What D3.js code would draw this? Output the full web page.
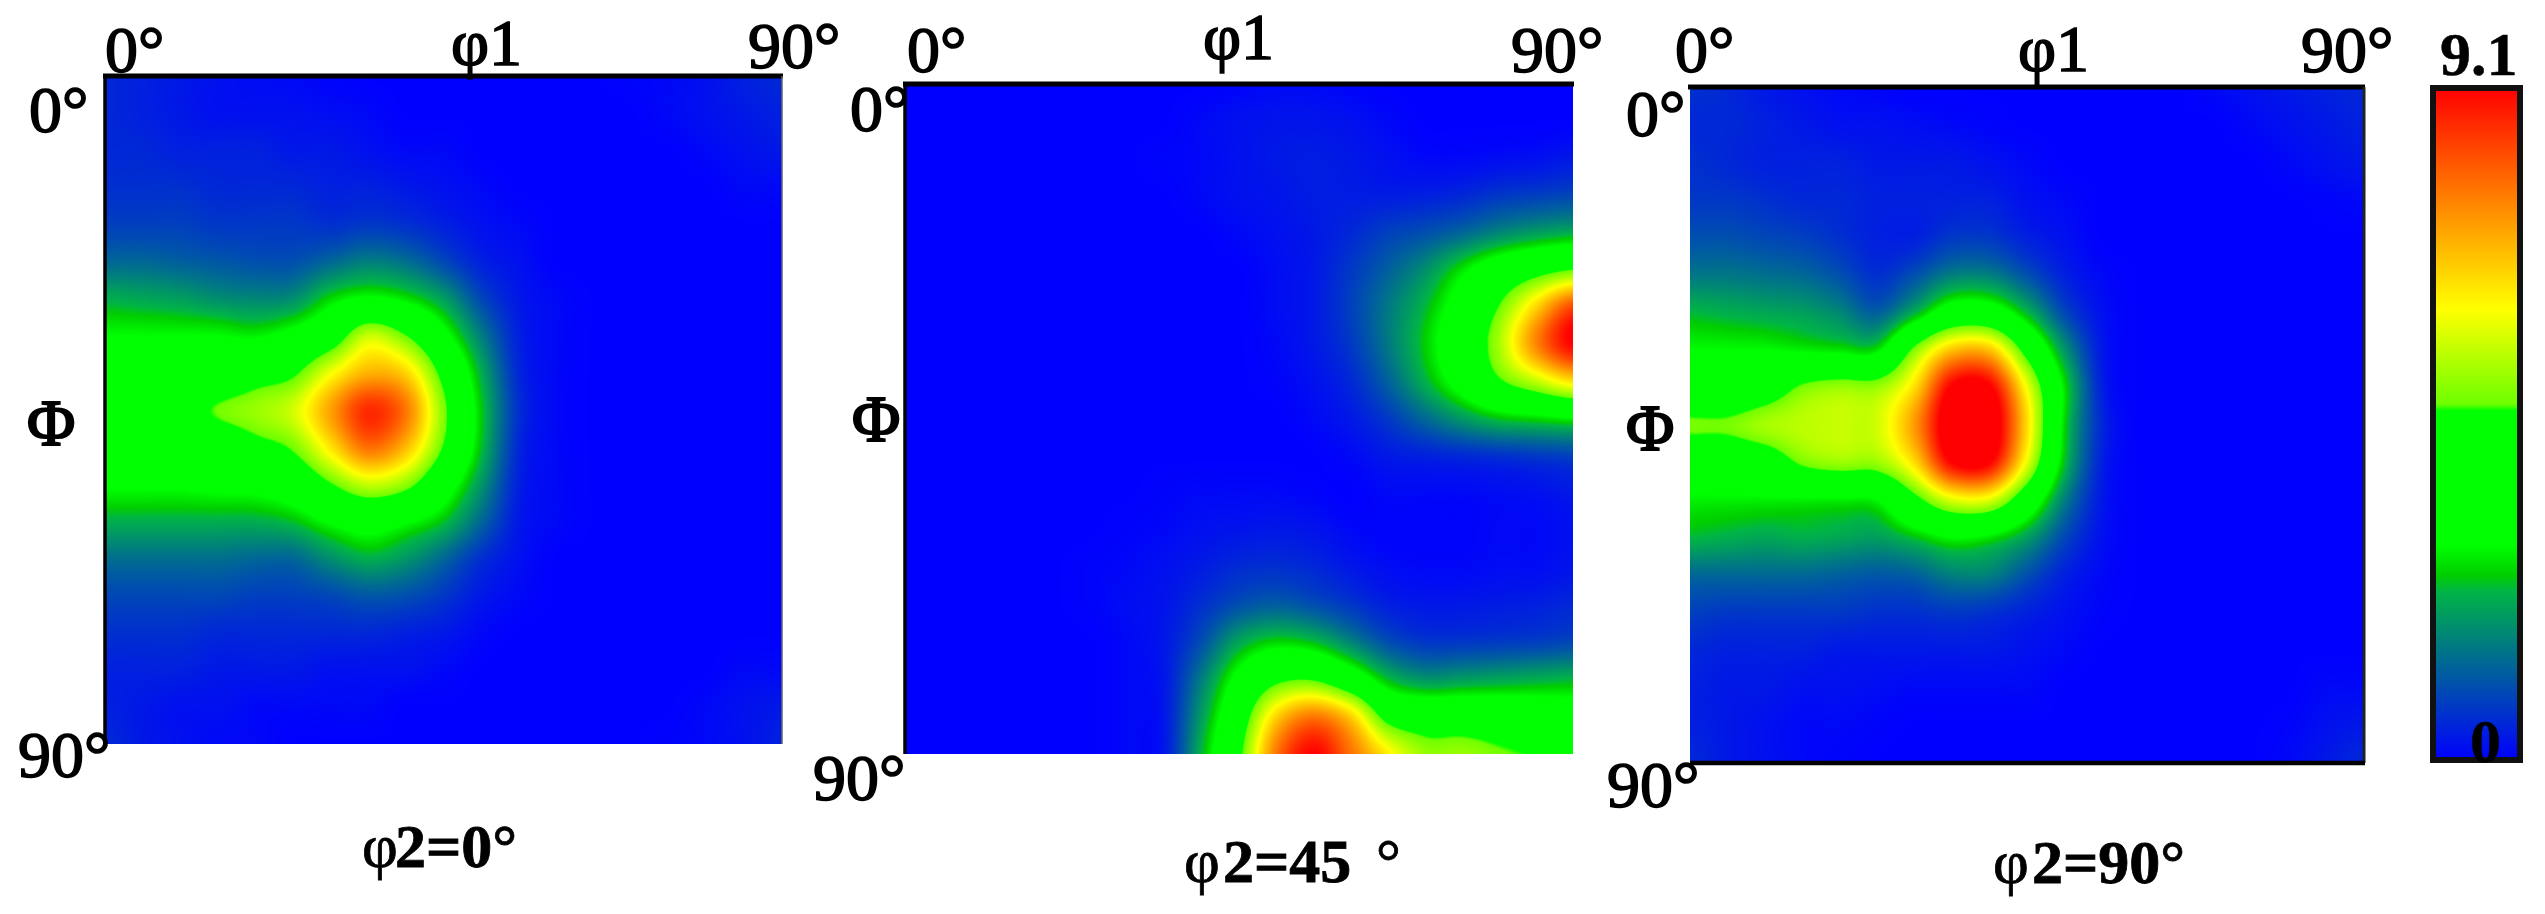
<!DOCTYPE html>
<html>
<head>
<meta charset="utf-8">
<script src="https://cdn.jsdelivr.net/npm/d3@7"></script>
<style>
  html, body { margin: 0; padding: 0; background: #fff; }
  text { font-family: "Liberation Serif", serif; fill: #000; stroke: #000; stroke-width: 1.6px; }
</style>
</head>
<body>
<div id="chart"></div>
<script>
// grid angles in degrees
var phi1Angles = [0,5,10,15,20,25,30,35,40,45,50,55,60,65,70,75,80,85,90];
var bigPhiAngles = [0,5,10,15,20,25,30,35,40,45,50,55,60,65,70,75,80,85,90];

// one row per PHI, one column per phi1
var odfPhi2At0 = [
  [.5,.4,.3,.2,.15,.1,.05,0,0,0,0,0,0,0,.05,.1,.2,.4,.5],
  [.5,.4,.3,.2,.2,.2,.15,.1,0,0,0,0,0,0,0,.1,.2,.3,.4],
  [.5,.5,.4,.4,.4,.3,.3,.2,.1,.1,0,0,0,0,0,0,.1,.2,.3],
  [.6,.6,.6,.5,.5,.5,.4,.4,.3,.2,.1,0,0,0,0,0,0,.1,.1],
  [.8,.8,.8,.7,.7,.7,.6,.7,.6,.4,.2,.1,0,0,0,0,0,0,0],
  [1.3,1.3,1.2,1.1,1,1,1.3,1.6,1.4,.9,.4,.2,0,0,0,0,0,0,0],
  [2.2,2.1,2,1.8,1.7,1.8,2.6,3,2.7,2,.9,.3,.1,0,0,0,0,0,0],
  [2.9,2.9,2.9,2.9,2.8,3.2,4,5.6,4.8,3.2,1.6,.4,.1,0,0,0,0,0,0],
  [3.3,3.3,3.4,3.6,4.2,4.6,6,7,6.6,4.4,2.2,.5,.1,0,0,0,0,0,0],
  [3.7,3.8,4.2,4.85,5.2,5.7,7.2,8.6,7.7,5,2.5,.6,.1,0,0,0,0,0,0],
  [3.5,3.5,3.6,3.8,4.4,4.9,6.4,7.8,6.9,4.7,2.4,.5,.1,0,0,0,0,0,0],
  [3,3,3,3.1,3.2,3.6,4.7,5.6,5.1,3.5,1.9,.4,.1,0,0,0,0,0,0],
  [2.2,2.2,2.2,2.2,2.2,2.4,3,3.4,3,2.4,1.3,.3,.1,0,0,0,0,0,0],
  [1.4,1.4,1.4,1.4,1.3,1.3,1.8,2.2,1.9,1.3,.6,.2,0,0,0,0,0,0,0],
  [.9,.9,.9,.9,.8,.8,.9,1.1,1,.7,.3,.1,0,0,0,0,0,0,0],
  [.6,.6,.6,.5,.5,.5,.5,.5,.4,.3,.1,0,0,0,0,0,0,0,0],
  [.4,.4,.4,.3,.3,.3,.2,.2,.2,.1,0,0,0,0,0,0,0,.1,.1],
  [.4,.3,.2,.2,.1,.1,.1,.1,0,0,0,0,0,0,0,0,.1,.2,.3],
  [.5,.3,.2,.1,.1,0,0,0,0,0,0,0,0,0,0,.05,.1,.2,.4]
];

var odfPhi2At45 = [
  [0,0,0,0,0,0,0,0,0,.05,.1,.1,.05,0,0,0,0,0,0],
  [0,0,0,0,0,0,0,0,.1,.2,.25,.25,.2,.1,0,0,0,0,0],
  [0,0,0,0,0,0,0,.05,.1,.2,.3,.35,.3,.2,.1,.1,.15,.2,.3],
  [0,0,0,0,0,0,0,0,.1,.2,.25,.35,.35,.35,.4,.5,.7,.8,.9],
  [0,0,0,0,0,0,0,0,0,.1,.2,.3,.5,.8,1,1.3,1.7,2,2.2],
  [0,0,0,0,0,0,0,0,0,0,.15,.3,.7,1.2,1.8,2.7,3.6,4.3,4.8],
  [0,0,0,0,0,0,0,0,0,0,.15,.3,.8,1.5,2.3,3.4,4.8,6.6,8.3],
  [0,0,0,0,0,0,0,0,0,0,.1,.3,.7,1.5,2.5,3.7,5.3,7.5,9.1],
  [0,0,0,0,0,0,0,0,0,0,.05,.2,.5,1.2,2.2,3.3,4.6,5.5,6.4],
  [0,0,0,0,0,0,0,0,0,0,0,.1,.3,.7,1.3,1.9,2.4,2.6,2.8],
  [0,0,0,0,0,0,0,0,0,0,0,0,.1,.3,.4,.5,.6,.7,.8],
  [0,0,0,0,0,0,0,.05,.1,.1,.1,.05,0,.1,.1,.1,.15,.2,.3],
  [0,0,0,0,0,0,.05,.1,.2,.25,.3,.25,.1,.05,.05,.05,.1,.1,.2],
  [0,0,0,0,0,.05,.1,.2,.35,.55,.6,.5,.3,.15,.1,.1,.15,.15,.25],
  [0,0,0,0,0,.05,.15,.25,.6,1,1.2,1,.7,.4,.3,.3,.35,.4,.5],
  [0,0,0,0,0,0,.1,.3,1,2.1,2.6,2.4,1.7,1,.7,.7,.75,.8,.9],
  [0,0,0,0,0,0,.1,.3,1.6,3.2,4.5,4.7,3.7,2.4,1.9,2,2.1,2.2,2.3],
  [0,0,0,0,0,0,.1,.3,2,4,6.6,7.7,6.7,4.4,4,4,3.9,3.7,3.5],
  [0,0,0,0,0,0,.1,.3,2.3,4.5,7.7,9.1,7.8,6.3,5.2,5.2,4.9,4.7,4.6]
];

var odfPhi2At90 = [
  [.6,.5,.3,.2,.1,.05,0,0,0,0,0,0,0,0,.1,.2,.3,.4,.5],
  [.5,.5,.4,.3,.2,.2,.15,.1,.05,0,0,0,0,0,0,.1,.2,.3,.4],
  [.6,.5,.4,.4,.4,.3,.3,.3,.2,.1,0,0,0,0,0,0,.1,.2,.3],
  [.7,.7,.6,.5,.5,.4,.4,.4,.4,.2,.1,0,0,0,0,0,0,.05,.1],
  [1,1,.9,.8,.6,.4,.4,.7,.7,.4,.2,0,0,0,0,0,0,0,0],
  [1.5,1.5,1.4,1.3,1,.6,1,1.6,1.6,1,.4,.1,0,0,0,0,0,0,0],
  [2.3,2.2,2.1,2,1.7,1.2,2.2,3.5,3.5,2.3,.9,.2,0,0,0,0,0,0,0],
  [2.9,2.9,2.9,2.8,2.7,2.7,5,6.8,6.8,4.3,1.9,.3,0,0,0,0,0,0,0],
  [3.4,3.5,4,4.9,5.2,5.2,6.5,9.2,9.2,6,2.7,.4,0,0,0,0,0,0,0],
  [4.9,4.9,5.3,5.5,5.6,5.7,7.3,9.8,9.8,6.5,2.6,.5,0,0,0,0,0,0,0],
  [3.6,3.7,4,4.9,5.2,5.2,6.5,9.1,9.1,5.9,2.4,.4,0,0,0,0,0,0,0],
  [2.8,2.8,2.8,2.8,2.8,2.9,4.4,5.8,5.8,3.8,1.6,.3,0,0,0,0,0,0,0],
  [2.3,2.2,2.1,2.2,2.1,2,2.4,2.9,2.7,2,.9,.2,0,0,0,0,0,0,0],
  [1.3,1.3,1.3,1.3,1.2,1.1,1.2,1.6,1.6,1,.4,.1,0,0,0,0,0,0,0],
  [.8,.7,.7,.7,.7,.6,.6,.7,.6,.4,.2,.05,0,0,0,0,0,0,0],
  [.5,.4,.4,.4,.3,.3,.3,.3,.3,.2,.1,0,0,0,0,0,0,0,0],
  [.4,.3,.3,.2,.2,.15,.1,.1,.1,.1,0,0,0,0,0,0,0,.1,.1],
  [.4,.3,.2,.1,.1,.05,0,0,0,0,0,0,0,0,0,0,.05,.2,.3],
  [.5,.3,.2,.1,.05,0,0,0,0,0,0,0,0,0,0,0,.1,.3,.5]
];

// colour ramp
var rampValues = [0, 2.28, 2.5, 2.91, 4.73, 4.82, 6.1, 9.1];
var rampColors = ["#0000ff", "#00b446", "#00cd00", "#00ff00", "#00ff00", "#6eff00", "#ffff00", "#ff0000"];
var barMax = 9.1;

var color = d3.scaleLinear().domain(rampValues).range(rampColors).clamp(true);

var W = 2545, H = 914;
var svg = d3.select("#chart").append("svg").attr("width", W).attr("height", H)
  .style("display", "block");
svg.append("defs").append("filter").attr("id", "soft")
  .append("feGaussianBlur").attr("stdDeviation", 0.7);

// layout of each panel, values stay in the arrays above
var panels = [
  { grid: odfPhi2At0, x0: 105, x1: 782, y0: 76, y1: 744,
    frame: ["top", "left", "rightThin"],
    labels: [
      ["0°", 105, 72], ["φ1", 451, 65], ["90°", 748, 68],
      ["0°", 29, 132], ["90°", 18, 777]
    ],
    bigPhi: [27, 445], tick: [470, 60, 78],
    caption: [["φ", 362, 867], ["2=0°", 395, 867, true]] },
  { grid: odfPhi2At45, x0: 905, x1: 1573, y0: 84, y1: 754,
    frame: ["top", "left"],
    labels: [
      ["0°", 907, 72], ["φ1", 1203, 59], ["90°", 1511, 72],
      ["0°", 850, 131], ["90°", 813, 800]
    ],
    bigPhi: [852, 441],
    caption: [["φ", 1184, 882], ["2=45", 1223, 882, true], ["°", 1376, 882]] },
  { grid: odfPhi2At90, x0: 1690, x1: 2364, y0: 87, y1: 763,
    frame: ["top", "right", "bottom"],
    labels: [
      ["0°", 1675, 72], ["φ1", 2018, 71], ["90°", 2301, 72],
      ["0°", 1626, 136], ["90°", 1607, 807]
    ],
    bigPhi: [1626, 450], tick: [2037, 68, 87],
    caption: [["φ", 1993, 883], ["2=90°", 2032, 883, true]] }
];

// Catmull-Rom weights for the four grid values around a point
function weights(t) {
  return [
    0.5 * (-t * t * t + 2 * t * t - t),
    0.5 * (3 * t * t * t - 5 * t * t + 2),
    0.5 * (-3 * t * t * t + 4 * t * t + t),
    0.5 * (t * t * t - t * t)
  ];
}

function sample(grid, a, b) {
  var last = phi1Angles.length - 1;
  var c0 = Math.min(Math.floor(a), last - 1), r0 = Math.min(Math.floor(b), last - 1);
  var wx = weights(a - c0), wy = weights(b - r0), v = 0;
  for (var m = 0; m < 4; m++) {
    var row = grid[Math.max(0, Math.min(last, r0 + m - 1))];
    for (var n = 0; n < 4; n++) {
      v += wy[m] * wx[n] * row[Math.max(0, Math.min(last, c0 + n - 1))];
    }
  }
  return v;
}

function drawHeat(p) {
  var x = d3.scaleLinear().domain([0, 90]).range([p.x0, p.x1]);
  var y = d3.scaleLinear().domain([0, 90]).range([p.y0, p.y1]);
  var wide = Math.round(p.x1 - p.x0), high = Math.round(p.y1 - p.y0);
  var canvas = document.createElement("canvas");
  canvas.width = wide; canvas.height = high;
  var ctx = canvas.getContext("2d");
  var img = ctx.createImageData(wide, high);
  var step = phi1Angles[1] - phi1Angles[0];
  for (var j = 0; j < high; j++) {
    var b = y.invert(p.y0 + j + 0.5) / step;
    for (var i = 0; i < wide; i++) {
      var a = x.invert(p.x0 + i + 0.5) / step;
      var c = d3.rgb(color(sample(p.grid, a, b))), k = (j * wide + i) * 4;
      img.data[k] = c.r; img.data[k + 1] = c.g; img.data[k + 2] = c.b; img.data[k + 3] = 255;
    }
  }
  ctx.putImageData(img, 0, 0);
  svg.append("image").attr("x", p.x0).attr("y", p.y0)
    .attr("width", wide).attr("height", high)
    .attr("href", canvas.toDataURL());

  var sides = {
    top: [p.x0 - 2, p.y0, p.x1 + 1, p.y0, 5, "#000"],
    left: [p.x0, p.y0, p.x0, p.y1, 3.5, "#000"],
    right: [p.x1, p.y0, p.x1, p.y1, 3, "#222"],
    rightThin: [p.x1, p.y0, p.x1, p.y1, 1.5, "#666"],
    bottom: [p.x0, p.y1, p.x1 + 1, p.y1, 4.5, "#000"]
  };
  p.frame.forEach(function (s) {
    var d = sides[s];
    svg.append("line").attr("x1", d[0]).attr("y1", d[1]).attr("x2", d[2]).attr("y2", d[3])
      .attr("stroke", d[5]).attr("stroke-width", d[4]);
  });
  if (p.tick) {
    svg.append("line").attr("x1", p.tick[0]).attr("x2", p.tick[0])
      .attr("y1", p.tick[1]).attr("y2", p.tick[2])
      .attr("stroke", "#000").attr("stroke-width", 2.5);
  }
}

function drawLabels(p) {
  var g = svg.append("g").attr("font-size", 66).attr("filter", "url(#soft)");
  p.labels.forEach(function (d) {
    g.append("text").attr("x", d[1]).attr("y", d[2]).text(d[0]);
  });
  g.append("text").attr("x", p.bigPhi[0]).attr("y", p.bigPhi[1])
    .style("stroke-width", "2.2px").text("Φ");
  p.caption.forEach(function (d) {
    g.append("text").attr("x", d[1]).attr("y", d[2]).attr("font-size", 62)
      .attr("font-weight", d[3] ? "bold" : "normal").style("stroke-width", "0.8px").text(d[0]);
  });
}

panels.forEach(drawHeat);
panels.forEach(drawLabels);

// colour bar
var barScale = d3.scaleLinear().domain([0, barMax]).range([760, 88]);
var grad = svg.select("defs").append("linearGradient").attr("id", "barRamp")
  .attr("x1", 0).attr("x2", 0).attr("y1", 1).attr("y2", 0);
rampValues.forEach(function (v, i) {
  grad.append("stop").attr("offset", v / barMax).attr("stop-color", rampColors[i]);
});
svg.append("rect").attr("x", 2433).attr("y", barScale(barMax))
  .attr("width", 87).attr("height", barScale(0) - barScale(barMax))
  .attr("fill", "url(#barRamp)").attr("stroke", "#111").attr("stroke-width", 6);
var barLabels = svg.append("g").attr("font-size", 62).attr("font-weight", "bold").attr("filter", "url(#soft)");
barLabels.append("text").attr("x", 2440).attr("y", 75).style("stroke-width", "0.5px").text("9.1");
barLabels.append("text").attr("x", 2470).attr("y", 762).style("stroke-width", "0.5px").text("0");
</script>
</body>
</html>
